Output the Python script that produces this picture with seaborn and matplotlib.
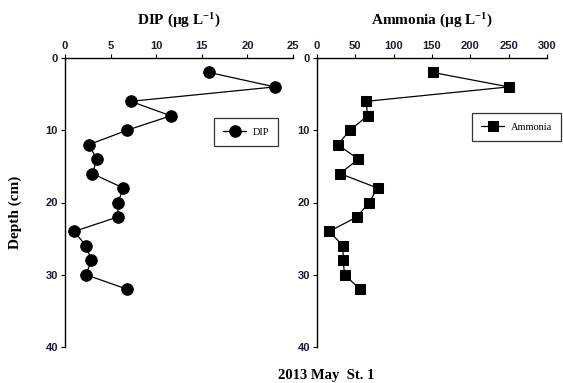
import matplotlib
matplotlib.use("Agg")
import matplotlib.pyplot as plt
import seaborn as sns
import pandas as pd

depth = [2, 4, 6, 8, 10, 12, 14, 16, 18, 20, 22, 24, 26, 28, 30, 32]
dip = [15.8, 23.0, 7.2, 11.6, 6.8, 2.6, 3.5, 3.0, 6.4, 5.8, 5.8, 1.0, 2.3, 2.9, 2.3, 6.8]
ammonia = [151, 250, 64, 66, 43, 27, 54, 30, 79, 68, 52, 16, 34, 34, 36, 56]

dip_ticks = [0, 5, 10, 15, 20, 25]
amm_ticks = [0, 50, 100, 150, 200, 250, 300]
depth_ticks = [0, 10, 20, 30, 40]

sns.set_theme(style="white")
plt.rcParams['font.family'] = ['Liberation Sans', 'DejaVu Sans']
plt.rcParams['mathtext.fontset'] = 'custom'
plt.rcParams['mathtext.rm'] = 'Liberation Serif:bold'
plt.rcParams['mathtext.default'] = 'regular'
plt.rcParams['text.color'] = 'black'

df = pd.DataFrame({"Depth": depth, "DIP": dip, "Ammonia": ammonia})

fig = plt.figure(figsize=(5.63, 3.83), dpi=100)
axL = fig.add_axes([65/563, 1-347/383, 228/563, 289/383])
axR = fig.add_axes([317/563, 1-347/383, 230/563, 289/383])

serif = ['Liberation Serif', 'DejaVu Serif']

def style(ax, xlim, xticks, title):
    ax.set_xlim(*xlim)
    ax.set_ylim(40, 0)
    ax.set_xticks(xticks)
    ax.set_yticks(depth_ticks)
    ax.xaxis.tick_top()
    for s in ['right', 'bottom']:
        ax.spines[s].set_visible(False)
    for s in ['left', 'top']:
        ax.spines[s].set_color('black')
        ax.spines[s].set_linewidth(1.0)
    ax.tick_params(axis='both', which='both', direction='out', length=3, width=0.8,
                   colors='black', labelsize=8, pad=2)
    ax.tick_params(axis='x', top=True, bottom=False, labeltop=True, labelbottom=False)
    ax.tick_params(axis='y', left=True)
    for lab in ax.get_xticklabels() + ax.get_yticklabels():
        lab.set_fontweight('bold')
        lab.set_color('#1c1c30')
    ax.set_xlabel('')
    ax.set_ylabel('')
    ax.set_title(title, fontsize=11, fontweight='bold', family=serif, pad=24, color='black')
    ax.grid(False)

sns.lineplot(data=df, x="DIP", y="Depth", sort=False, orient='y', ax=axL, color='black',
             linewidth=0.9, marker='o', markersize=8.3, markeredgecolor='black',
             label='DIP')
sns.lineplot(data=df, x="Ammonia", y="Depth", sort=False, orient='y', ax=axR, color='black',
             linewidth=0.9, marker='s', markersize=7.8, markeredgecolor='black',
             label='Ammonia')

style(axL, (0, 25), dip_ticks, 'DIP (\u00b5g L$^{-1}$)')
style(axR, (0, 300), amm_ticks, 'Ammonia (\u00b5g L$^{-1}$)')

for ax, anchor in [(axL, (0.653, 0.792)), (axR, (0.674, 0.81))]:
    leg = ax.legend(loc='upper left', bbox_to_anchor=anchor, frameon=True, fancybox=False,
                    prop={'family': serif, 'size': 7.5}, handlelength=2.2, borderpad=0.9,
                    handletextpad=0.6, borderaxespad=0)
    leg.get_frame().set_edgecolor('black')
    leg.get_frame().set_linewidth(0.9)
    for t in leg.get_texts():
        t.set_color('black')

fig.text(15/563, 1-212/383, 'Depth (cm)', rotation=90, ha='center', va='center',
         fontsize=11, fontweight='bold', family=serif, color='black')
fig.text(326/563, 1-375/383, '2013 May  St. 1', ha='center', va='center',
         fontsize=10.5, fontweight='bold', family=serif, color='black')

fig.savefig('out.png', dpi=100)
